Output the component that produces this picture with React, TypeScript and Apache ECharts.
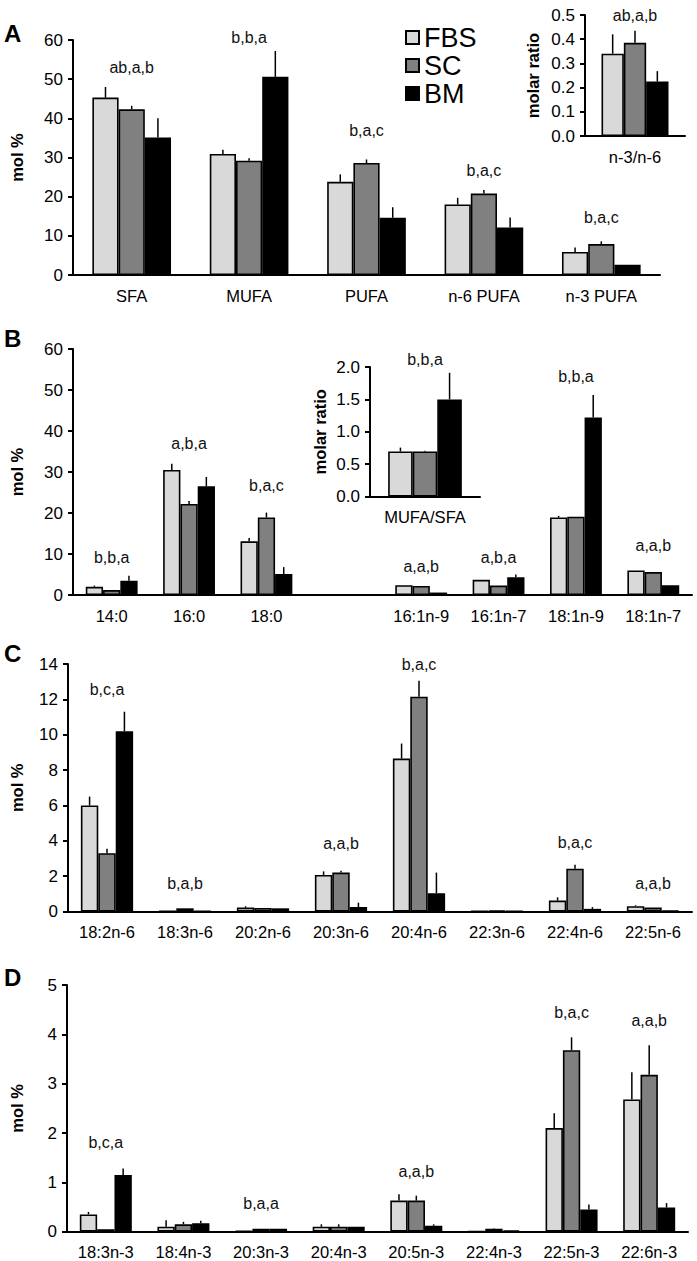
import React, { useEffect, useRef } from "react";
import * as echarts from "echarts";

const FONT = '"Liberation Sans", Arial, Helvetica, sans-serif';
const groups = ["FBS", "SC", "BM"];
const colors = ["#d9d9d9", "#808080", "#000000"];

// Panel A
const catsA = ["SFA", "MUFA", "PUFA", "n-6 PUFA", "n-3 PUFA"];
const fbsA = [45.3, 30.9, 23.8, 18.0, 5.9];
const scA = [42.3, 29.2, 28.6, 20.8, 7.9];
const bmA = [35.1, 50.6, 14.6, 12.1, 2.6];
const fbsAErr = [2.7, 1.1, 1.9, 1.7, 1.1];
const scAErr = [0.9, 0.6, 0.9, 0.9, 0.7];
const bmAErr = [4.9, 6.6, 2.7, 2.6, 0];
const sigA = ["ab,a,b", "b,b,a", "b,a,c", "b,a,c", "b,a,c"];
const sigAY = [53, 60.7, 37, 26.8, 14.6];

// Panel A inset
const catsAi = ["n-3/n-6"];
const fbsAi = [0.34];
const scAi = [0.385];
const bmAi = [0.225];
const fbsAiErr = [0.08];
const scAiErr = [0.05];
const bmAiErr = [0.043];
const sigAi = ["ab,a,b"];
const sigAiY = [0.5];

// Panel B
const catsB = ["14:0", "16:0", "18:0", "", "16:1n-9", "16:1n-7", "18:1n-9", "18:1n-7"];
const fbsB = [2.0, 30.5, 13.1, null, 2.4, 3.7, 18.9, 6.0];
const scB = [1.2, 22.2, 18.9, null, 2.2, 2.3, 19.1, 5.6];
const bmB = [3.5, 26.5, 5.1, null, 0.6, 4.3, 43.3, 2.4];
const fbsBErr = [0.3, 1.5, 0.8, 0, 0, 0, 0.4, 0];
const scBErr = [0, 0.7, 1.2, 0, 0, 0, 0, 0];
const bmBErr = [1.2, 2.3, 1.7, 0, 0, 0.7, 5.5, 0];
const sigB = ["b,b,a", "a,b,a", "b,a,c", "", "a,a,b", "a,b,a", "b,b,a", "a,a,b"];
const sigBY = [9.2, 36.9, 26.7, null, 7.0, 9.2, 53.2, 12.0];

// Panel B inset
const catsBi = ["MUFA/SFA"];
const fbsBi = [0.695];
const scBi = [0.695];
const bmBi = [1.5];
const fbsBiErr = [0.06];
const scBiErr = [0.01];
const bmBiErr = [0.41];
const sigBi = ["b,b,a"];
const sigBiY = [2.11];

// Panel C
const catsC = ["18:2n-6", "18:3n-6", "20:2n-6", "20:3n-6", "20:4n-6", "22:3n-6", "22:4n-6", "22:5n-6"];
const fbsC = [6.0, 0.02, 0.22, 2.07, 8.65, 0.02, 0.62, 0.3];
const scC = [3.3, 0.18, 0.2, 2.2, 12.15, 0.05, 2.42, 0.22];
const bmC = [10.2, 0.03, 0.18, 0.25, 1.03, 0.03, 0.15, 0.05];
const fbsCErr = [0.5, 0, 0.08, 0.2, 0.85, 0, 0.18, 0.05];
const scCErr = [0.25, 0, 0, 0.1, 0.9, 0, 0.22, 0];
const bmCErr = [1.1, 0, 0, 0.25, 1.17, 0, 0.1, 0];
const sigC = ["b,c,a", "b,a,b", "", "a,a,b", "b,a,c", "", "b,a,c", "a,a,b"];
const sigCY = [12.57, 1.6, null, 3.86, 13.95, null, 3.92, 1.6];

// Panel D
const catsD = ["18:3n-3", "18:4n-3", "20:3n-3", "20:4n-3", "20:5n-3", "22:4n-3", "22:5n-3", "22:6n-3"];
const fbsD = [0.35, 0.1, 0.02, 0.1, 0.63, 0.01, 2.1, 2.68];
const scD = [0.05, 0.15, 0.06, 0.1, 0.63, 0.06, 3.68, 3.18];
const bmD = [1.15, 0.17, 0.06, 0.1, 0.12, 0.03, 0.45, 0.49];
const fbsDErr = [0.05, 0.13, 0, 0.05, 0.13, 0, 0.3, 0.55];
const scDErr = [0, 0.05, 0, 0.05, 0.1, 0.01, 0.26, 0.6];
const bmDErr = [0.13, 0.05, 0, 0, 0.03, 0, 0.1, 0.09];
const sigD = ["b,c,a", "", "b,a,a", "", "a,a,b", "", "b,a,c", "a,a,b"];
const sigDY = [1.8, null, 0.58, null, 1.22, null, 4.44, 4.29];

const GAP = 0.33;

function buildSeries(
  g: number,
  vals: (number | null)[][],
  errs: number[][],
  sig: string[],
  sigY: (number | null)[]
) {
  const out: any[] = [];
  groups.forEach((n, k) => {
    out.push({
      type: "bar",
      name: n,
      xAxisIndex: g,
      yAxisIndex: g,
      data: vals[k].map((v) => (v == null ? "-" : v)),
      barGap: "0%",
      barCategoryGap: GAP * 100 + "%",
      itemStyle: { color: colors[k], borderColor: "#000", borderWidth: 1.6 },
      silent: true,
    });
  });
  const errData: number[][] = [];
  vals.forEach((arr, k) =>
    arr.forEach((v, i) => {
      if (v != null && errs[k][i] > 0) errData.push([i, k, v, errs[k][i]]);
    })
  );
  out.push({
    type: "custom",
    xAxisIndex: g,
    yAxisIndex: g,
    z: 5,
    silent: true,
    encode: { x: 0, y: 2 },
    data: errData,
    renderItem: (params: any, api: any) => {
      const cat = api.value(0);
      const k = api.value(1);
      const v = api.value(2);
      const e = api.value(3);
      const base = api.coord([cat, v]);
      const top = api.coord([cat, v + e]);
      const band = api.size([1, 0])[0];
      const bw = (band * (1 - GAP)) / 3;
      const x = base[0] + (k - 1) * bw;
      return {
        type: "line",
        shape: { x1: x, y1: base[1], x2: x, y2: top[1] },
        style: { stroke: "#000", lineWidth: 1.5 },
      };
    },
  });
  const sigTexts: string[] = [];
  const sigData: number[][] = [];
  sig.forEach((s, i) => {
    if (s && sigY[i] != null) {
      sigTexts.push(s);
      sigData.push([i, sigY[i] as number]);
    }
  });
  out.push({
    type: "custom",
    xAxisIndex: g,
    yAxisIndex: g,
    z: 6,
    silent: true,
    clip: false,
    encode: { x: 0, y: 1 },
    data: sigData,
    renderItem: (params: any, api: any) => {
      const p = api.coord([api.value(0), api.value(1)]);
      return {
        type: "text",
        x: p[0],
        y: p[1],
        style: {
          text: sigTexts[params.dataIndex],
          fill: "#111",
          fontSize: 16,
          fontFamily: FONT,
          align: "center",
          verticalAlign: "middle",
          textAlign: "center",
          textVerticalAlign: "middle",
        },
      };
    },
  });
  return out;
}

function xAx(g: number, data: string[]) {
  return {
    type: "category",
    gridIndex: g,
    data,
    axisLine: { lineStyle: { color: "#000", width: 2 } },
    axisTick: { show: false },
    axisLabel: { color: "#000", fontSize: 16.5, margin: 12, fontFamily: FONT, interval: 0 },
  };
}

function yAx(g: number, max: number, interval: number, name: string, nameGap: number, decimals: boolean) {
  return {
    type: "value",
    gridIndex: g,
    min: 0,
    max,
    interval,
    name,
    nameLocation: "middle",
    nameGap,
    nameTextStyle: { color: "#000", fontWeight: "bold", fontSize: 16.5, fontFamily: FONT },
    splitLine: { show: false },
    axisLine: { show: true, lineStyle: { color: "#000", width: 2 } },
    axisTick: { show: true, length: 5, lineStyle: { color: "#000", width: 2 } },
    axisLabel: {
      color: "#000",
      fontSize: 17,
      margin: 10,
      fontFamily: FONT,
      formatter: decimals ? (v: number) => v.toFixed(1) : (v: number) => String(v),
    },
  };
}

export default function App() {
  const ref = useRef<HTMLDivElement>(null);
  useEffect(() => {
    if (!ref.current) return;
    const chart = echarts.init(ref.current, undefined, { renderer: "svg" });
    const series = [
      ...buildSeries(0, [fbsA, scA, bmA], [fbsAErr, scAErr, bmAErr], sigA, sigAY),
      ...buildSeries(1, [fbsAi, scAi, bmAi], [fbsAiErr, scAiErr, bmAiErr], sigAi, sigAiY),
      ...buildSeries(2, [fbsB, scB, bmB], [fbsBErr, scBErr, bmBErr], sigB, sigBY),
      ...buildSeries(3, [fbsBi, scBi, bmBi], [fbsBiErr, scBiErr, bmBiErr], sigBi, sigBiY),
      ...buildSeries(4, [fbsC, scC, bmC], [fbsCErr, scCErr, bmCErr], sigC, sigCY),
      ...buildSeries(5, [fbsD, scD, bmD], [fbsDErr, scDErr, bmDErr], sigD, sigDY),
    ];
    const letter = (t: string, y: number) => ({
      type: "text",
      left: 4,
      top: y,
      style: { text: t, fill: "#000", fontSize: 24, fontWeight: "bold", fontFamily: FONT },
    });
    chart.setOption({
      animation: false,
      textStyle: { fontFamily: FONT },
      grid: [
        { left: 73, top: 40, width: 587, height: 235 },
        { left: 585, top: 15, width: 100, height: 121 },
        { left: 72, top: 349, width: 620, height: 246 },
        { left: 370, top: 367, width: 110, height: 129.5 },
        { left: 68, top: 664, width: 624, height: 247.5 },
        { left: 67, top: 985, width: 621, height: 246.7 },
      ],
      xAxis: [
        xAx(0, catsA),
        xAx(1, catsAi),
        xAx(2, catsB),
        xAx(3, catsBi),
        xAx(4, catsC),
        xAx(5, catsD),
      ],
      yAxis: [
        yAx(0, 60, 10, "mol %", 48, false),
        yAx(1, 0.5, 0.1, "molar ratio", 44, true),
        yAx(2, 60, 10, "mol %", 48, false),
        yAx(3, 2, 0.5, "molar ratio", 42, true),
        yAx(4, 14, 2, "mol %", 43, false),
        yAx(5, 5, 1, "mol %", 42, false),
      ],
      legend: {
        data: groups,
        orient: "vertical",
        left: 405,
        top: 24,
        padding: 0,
        itemWidth: 13,
        itemHeight: 13,
        itemGap: 1,
        icon: "rect",
        selectedMode: false,
        textStyle: { color: "#000", fontSize: 27, lineHeight: 27, fontFamily: FONT },
      },
      graphic: [letter("A", 21), letter("B", 326), letter("C", 641), letter("D", 965)],
      series,
    });
    return () => chart.dispose();
  }, []);
  return (
    <div
      ref={ref}
      style={{ position: "absolute", left: 0, top: 0, width: 697, height: 1261, background: "#fff" }}
    />
  );
}
